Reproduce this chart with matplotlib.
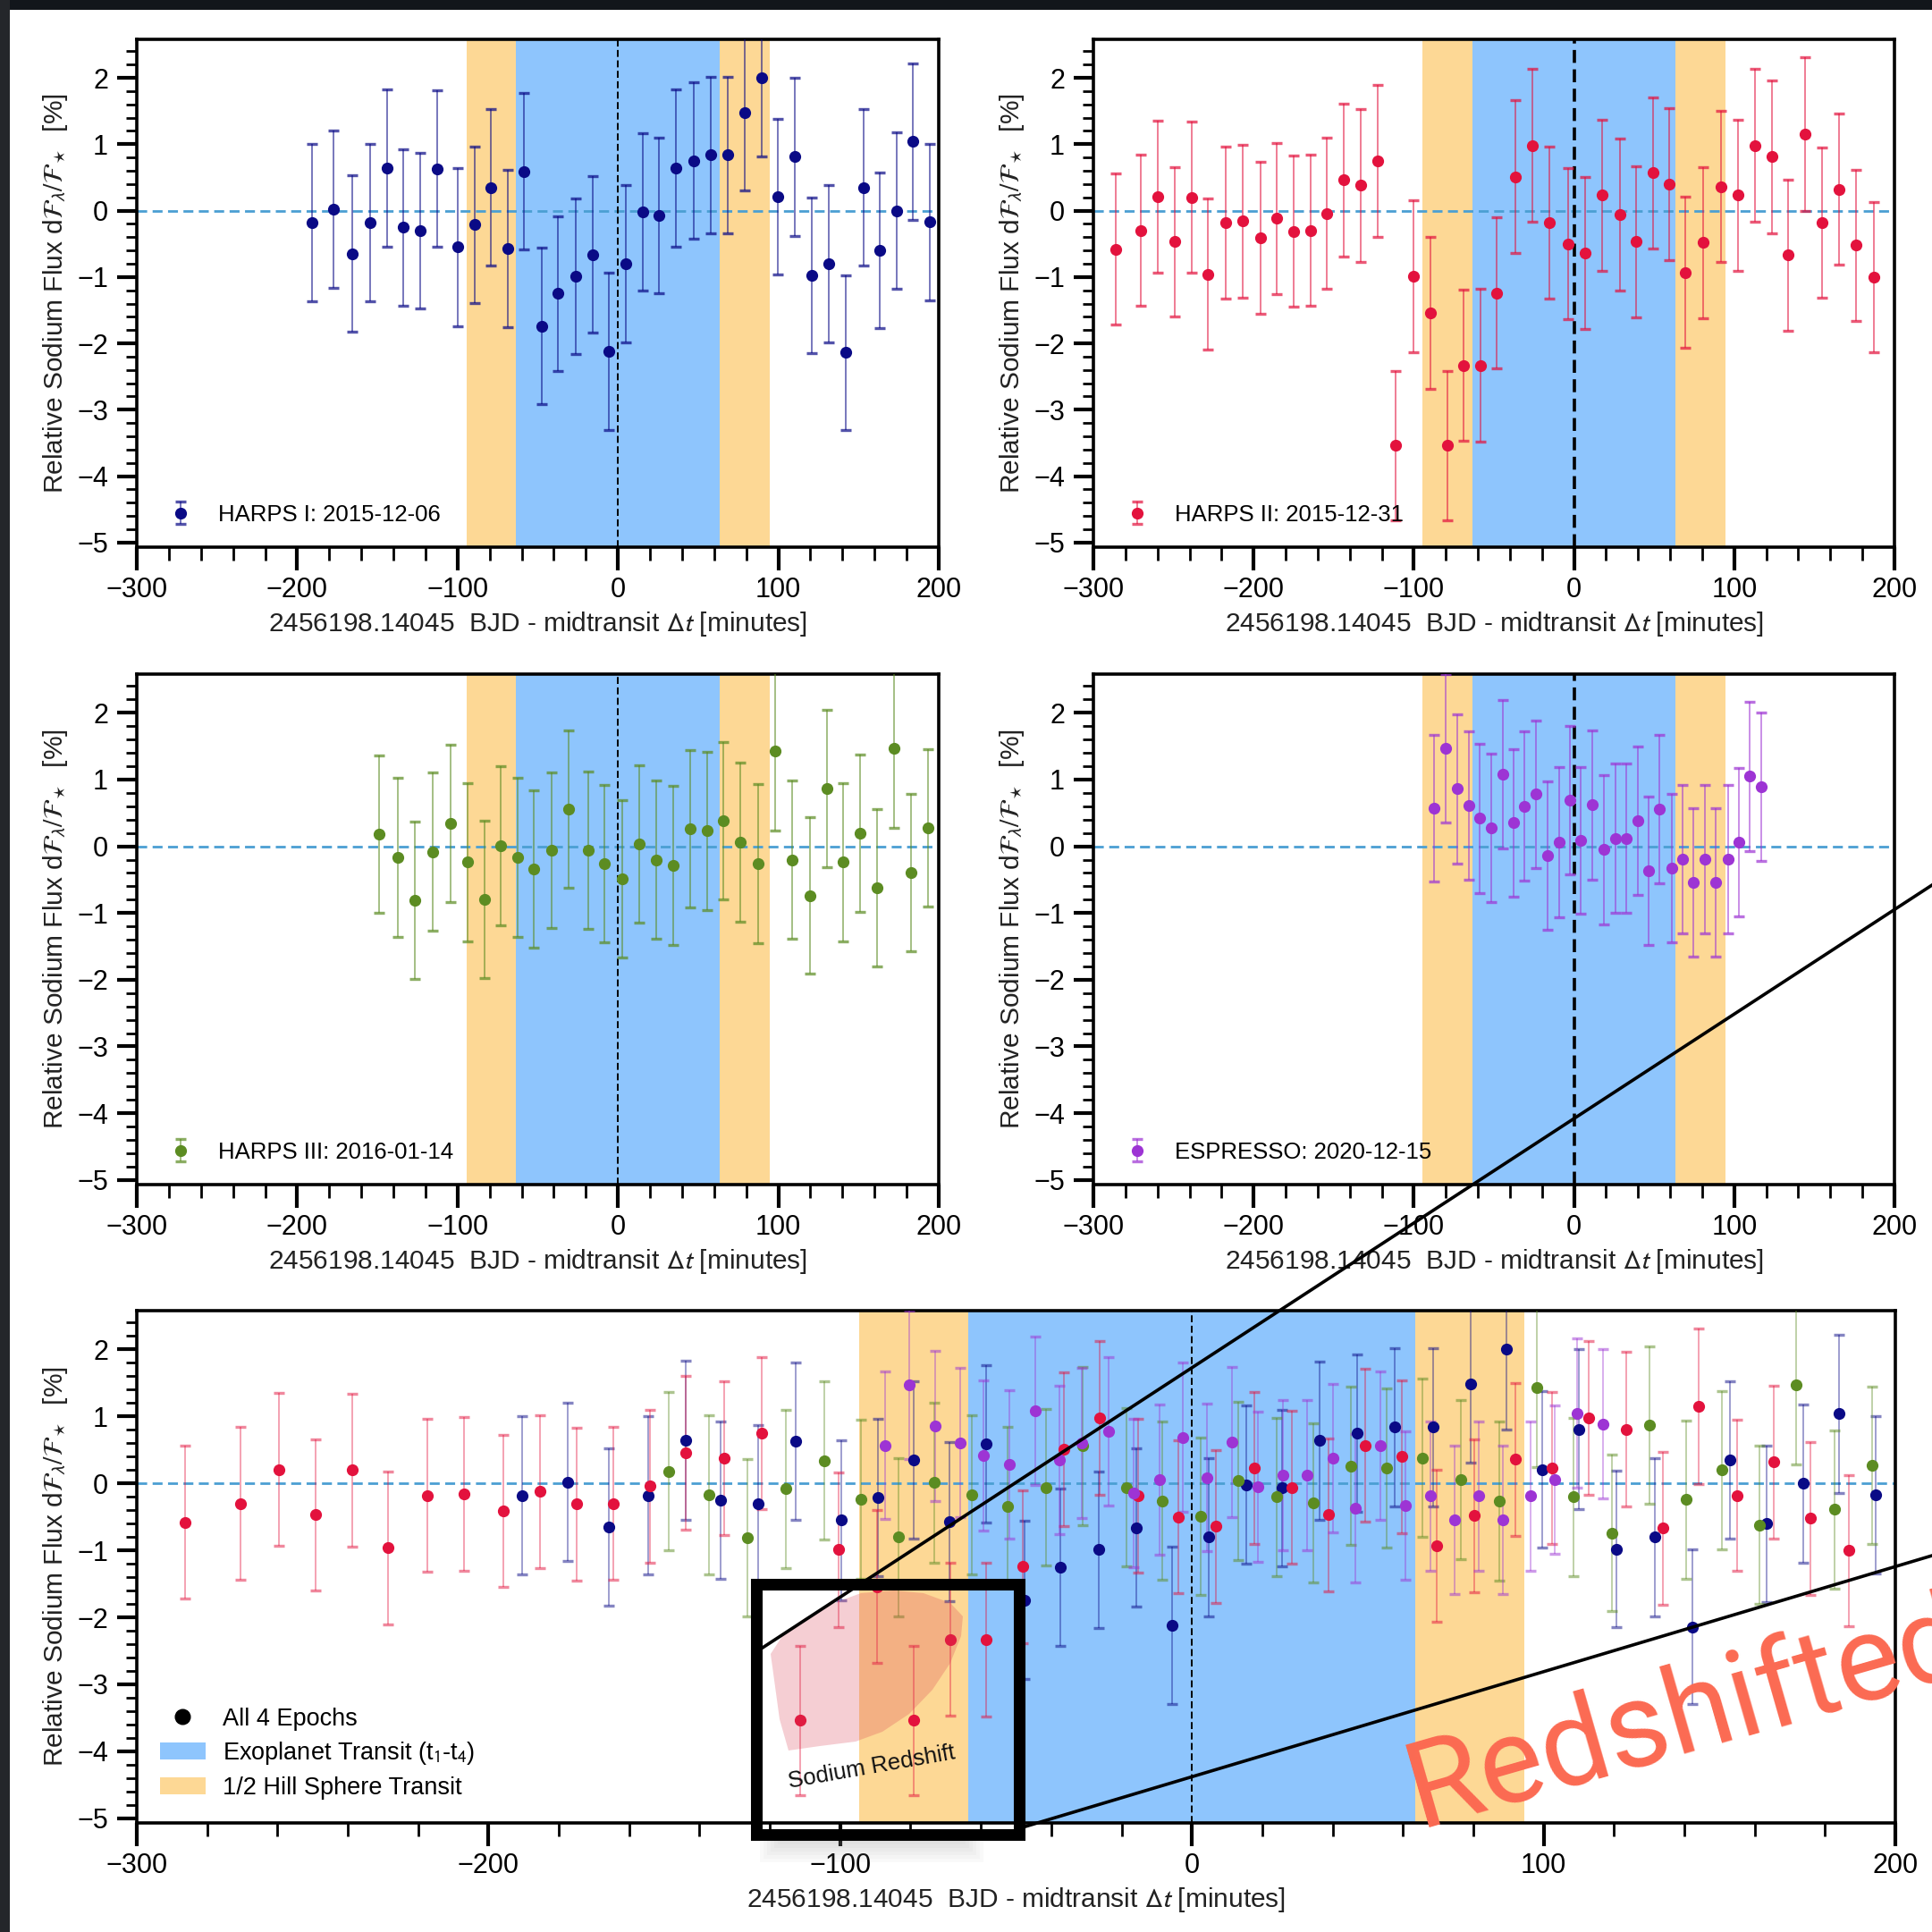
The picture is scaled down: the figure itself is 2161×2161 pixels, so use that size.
import numpy as np
import matplotlib
matplotlib.use("Agg")
import matplotlib.pyplot as plt
from matplotlib.patches import Patch, Rectangle, Polygon
from matplotlib.lines import Line2D
from matplotlib.ticker import MultipleLocator

plt.rcParams['font.family'] = ['Liberation Sans', 'DejaVu Sans']
plt.rcParams['mathtext.fontset'] = 'stixsans'

# --- sodium light curves, time from mid-transit [min], flux [%], 1-sigma error [%]
harps1_t = [-190.5, -177.6, -165.9, -154.6, -144.0, -133.9, -123.3, -112.7, -99.8, -89.3,
            -79.1, -68.9, -58.4, -47.5, -37.3, -26.4, -15.8, -5.6, 4.9, 15.5,
            25.6, 36.2, 47.1, 57.7, 68.6, 79.2, 89.4, 99.5, 110.1, 120.6,
            131.6, 142.2, 153.1, 163.3, 173.8, 184.0, 194.5]
harps1_f = [-0.18, 0.02, -0.65, -0.18, 0.64, -0.25, -0.30, 0.63, -0.55, -0.21,
            0.35, -0.57, 0.59, -1.74, -1.25, -0.99, -0.66, -2.12, -0.80, -0.02,
            -0.07, 0.64, 0.75, 0.84, 0.84, 1.48, 2.00, 0.21, 0.81, -0.98,
            -0.80, -2.14, 0.35, -0.60, 0.00, 1.04, -0.17]
harps1_e = [1.18, 1.18, 1.18, 1.18, 1.19, 1.18, 1.17, 1.18, 1.19, 1.18,
            1.18, 1.19, 1.18, 1.18, 1.17, 1.17, 1.18, 1.18, 1.18, 1.18,
            1.17, 1.18, 1.18, 1.18, 1.18, 1.17, 1.19, 1.17, 1.19, 1.17,
            1.18, 1.16, 1.18, 1.17, 1.18, 1.18, 1.18]

harps2_t = [-286.2, -270.4, -259.6, -249.2, -238.8, -228.5, -217.3, -206.9, -195.8, -185.4,
            -175.0, -164.6, -154.2, -143.8, -133.1, -122.3, -111.5, -100.4, -89.6, -79.2,
            -68.8, -58.5, -48.1, -36.5, -26.2, -15.4, -3.8, 6.9, 17.7, 28.5,
            38.8, 49.2, 59.6, 69.6, 80.4, 91.9, 102.3, 112.7, 123.5, 133.8,
            144.2, 155.0, 165.4, 175.8, 186.9]
harps2_f = [-0.58, -0.30, 0.21, -0.47, 0.20, -0.96, -0.18, -0.16, -0.41, -0.12,
            -0.31, -0.30, -0.04, 0.46, 0.38, 0.75, -3.54, -0.99, -1.54, -3.54,
            -2.33, -2.33, -1.24, 0.51, 0.98, -0.18, -0.50, -0.64, 0.23, -0.06,
            -0.47, 0.57, 0.40, -0.93, -0.48, 0.36, 0.23, 0.98, 0.81, -0.67,
            1.15, -0.18, 0.32, -0.52, -1.00]
harps2_e = [1.14, 1.14, 1.14, 1.13, 1.14, 1.14, 1.14, 1.15, 1.14, 1.14,
            1.14, 1.14, 1.14, 1.15, 1.15, 1.14, 1.12, 1.15, 1.14, 1.12,
            1.14, 1.15, 1.14, 1.15, 1.15, 1.15, 1.14, 1.14, 1.14, 1.14,
            1.14, 1.14, 1.14, 1.14, 1.14, 1.14, 1.14, 1.15, 1.15, 1.14,
            1.16, 1.13, 1.14, 1.14, 1.13]

harps3_t = [-148.7, -137.4, -126.4, -115.5, -104.5, -94.0, -83.4, -73.3, -62.7, -52.5,
            -41.6, -31.0, -18.5, -8.4, 2.6, 13.1, 24.1, 34.6, 45.2, 55.4,
            65.6, 76.5, 87.5, 98.0, 108.6, 119.5, 130.1, 140.6, 150.8, 161.4,
            171.9, 182.8, 193.4]
harps3_f = [0.18, -0.17, -0.81, -0.08, 0.34, -0.24, -0.80, 0.01, -0.17, -0.34,
            -0.06, 0.56, -0.06, -0.26, -0.49, 0.04, -0.20, -0.29, 0.26, 0.23,
            0.38, 0.06, -0.26, 1.43, -0.20, -0.74, 0.87, -0.24, 0.20, -0.62,
            1.47, -0.39, 0.27]
harps3_e = [1.18, 1.19, 1.18, 1.18, 1.18, 1.19, 1.18, 1.19, 1.19, 1.18,
            1.17, 1.18, 1.18, 1.18, 1.18, 1.18, 1.18, 1.19, 1.18, 1.19,
            1.18, 1.19, 1.19, 1.19, 1.18, 1.17, 1.18, 1.18, 1.18, 1.18,
            1.19, 1.18, 1.18]

espresso_t = [-87.3, -80.4, -73.1, -65.8, -59.2, -51.9, -44.6, -37.7, -31.2, -23.8,
              -16.5, -9.2, -2.7, 4.2, 11.5, 18.8, 25.8, 32.7, 40.0, 46.5,
              53.5, 60.8, 67.7, 74.6, 81.5, 88.5, 96.2, 103.1, 109.6, 116.9]
espresso_f = [0.57, 1.47, 0.86, 0.61, 0.42, 0.28, 1.08, 0.35, 0.60, 0.78,
              -0.14, 0.06, 0.69, 0.09, 0.62, -0.05, 0.12, 0.12, 0.38, -0.37,
              0.56, -0.33, -0.19, -0.54, -0.19, -0.54, -0.19, 0.06, 1.05, 0.89]
espresso_e = [1.10, 1.11, 1.12, 1.11, 1.12, 1.11, 1.11, 1.11, 1.12, 1.11,
              1.11, 1.12, 1.11, 1.10, 1.12, 1.12, 1.12, 1.12, 1.11, 1.11,
              1.11, 1.11, 1.11, 1.11, 1.11, 1.11, 1.11, 1.11, 1.12, 1.11]

epoch_labels = ['HARPS I: 2015-12-06', 'HARPS II: 2015-12-31',
                'HARPS III: 2016-01-14', 'ESPRESSO: 2020-12-15']
epoch_colors = ['#0a0a86', '#e3123d', '#5c8c22', '#9d34d4']

transit_half = 63.5     # t1-t4 half width [min]
hill_half = 94.5        # half Hill sphere crossing [min]

BLUE = '#8ec5fd'
ORANGE = '#fdd895'

epochs = [(harps1_t, harps1_f, harps1_e),
          (harps2_t, harps2_f, harps2_e),
          (harps3_t, harps3_f, harps3_e),
          (espresso_t, espresso_f, espresso_e)]

W = H = 2161
fig = plt.figure(figsize=(W / 100, H / 100), dpi=100)
fig.patch.set_facecolor('white')


def frac(x, y):
    return x / W, 1 - y / H


def box(x0, y0, x1, y1):
    return [x0 / W, 1 - y1 / H, (x1 - x0) / W, (y1 - y0) / H]


def style_axes(ax, bold_zero=False):
    ax.axvspan(-hill_half, -transit_half, color=ORANGE, lw=0, zorder=0)
    ax.axvspan(-transit_half, transit_half, color=BLUE, lw=0, zorder=0)
    ax.axvspan(transit_half, hill_half, color=ORANGE, lw=0, zorder=0)
    ax.axhline(0, color='#4b9fd3', ls=(0, (4, 2.2)), lw=2.0, zorder=1)
    ax.axvline(0, color='black', ls=(0, (4, 2)), lw=2.6 if bold_zero else 1.4, zorder=1)
    ax.set_xlim(-300, 200)
    ax.set_ylim(-5.07, 2.58)
    ax.xaxis.set_major_locator(MultipleLocator(100))
    ax.xaxis.set_minor_locator(MultipleLocator(20))
    ax.yaxis.set_major_locator(MultipleLocator(1))
    ax.yaxis.set_minor_locator(MultipleLocator(0.2))
    ax.tick_params(axis='x', which='major', direction='out', length=19, width=3,
                   labelsize=22, pad=5)
    ax.tick_params(axis='x', which='minor', direction='out', length=11, width=2)
    ax.tick_params(axis='y', which='major', direction='out', length=16, width=3,
                   labelsize=22, pad=7)
    ax.tick_params(axis='y', which='minor', direction='out', length=9, width=2)
    for s in ax.spines.values():
        s.set_linewidth(2.6)
    ax.set_xlabel(r'2456198.14045  BJD - midtransit $\mathit{\Delta t}$ [minutes]',
                  fontsize=21.5, labelpad=5, color='#222222')
    ax.set_ylabel(r'Relative Sodium Flux d$\mathcal{F}_\lambda/\mathcal{F}_\star$  [%]',
                  fontsize=21.5, labelpad=6, color='#222222')


def draw_epoch(ax, t, f, e, color, label=None, err_alpha=0.7):
    ax.errorbar(t, f, yerr=e, fmt='o', ms=8.5, color=color, mec=color,
                ecolor=matplotlib.colors.to_rgba(color, err_alpha),
                elinewidth=1.1, capsize=4.5, capthick=2.4, label=label, zorder=3)


# four single-epoch panels
panel_boxes = [box(153, 44, 1050, 612), box(1223, 44, 2119, 612),
               box(153, 754, 1050, 1325), box(1223, 754, 2119, 1325)]
for i, (pb, (t, f, e)) in enumerate(zip(panel_boxes, epochs)):
    ax = fig.add_axes(pb)
    style_axes(ax, bold_zero=(i % 2 == 1))
    draw_epoch(ax, t, f, e, epoch_colors[i], label=epoch_labels[i])
    ax.legend(loc='lower left', frameon=False, fontsize=18.5, handlelength=1.9,
              handletextpad=0.7, borderaxespad=0.55)

# combined panel
axb = fig.add_axes(box(153, 1466, 2120, 2039))
style_axes(axb)
for (t, f, e), c in zip(epochs, epoch_colors):
    draw_epoch(axb, t, f, e, c, err_alpha=0.5)
handles = [Line2D([], [], ls='none', marker='o', ms=12, color='black'),
           Patch(facecolor=BLUE, edgecolor='none'),
           Patch(facecolor=ORANGE, edgecolor='none')]
axb.legend(handles, ['All 4 Epochs', r'Exoplanet Transit (t$_1$-t$_4$)',
                     '1/2 Hill Sphere Transit'],
           loc='lower left', frameon=False, fontsize=19.5, handlelength=1.9,
           handletextpad=0.7, labelspacing=0.4, borderaxespad=0.55)

# dark screen edges
fig.add_artist(Rectangle((0, 1 - 11 / H), 1, 11 / H, transform=fig.transFigure,
                         color='#12161b', lw=0, zorder=5))
fig.add_artist(Rectangle((0, 0), 11 / W, 1, transform=fig.transFigure,
                         color='#24262a', lw=0, zorder=5))

# highlighted redshift region
blob = [(862, 1850), (877, 1827), (900, 1810), (933, 1793), (963, 1782), (1000, 1779),
        (1033, 1782), (1063, 1793), (1077, 1808), (1075, 1830), (1063, 1860),
        (1043, 1890), (1017, 1917), (987, 1937), (957, 1948), (917, 1953),
        (882, 1958), (872, 1923)]
fig.add_artist(Polygon([frac(*p) for p in blob], closed=True, transform=fig.transFigure,
                       facecolor='#d83c50', alpha=0.25, lw=0, zorder=6))
x0, y0 = frac(883, 2000)
fig.text(x0, y0, 'Sodium Redshift', rotation=10, rotation_mode='anchor',
         ha='left', va='baseline', fontsize=18.5, color='#111111', zorder=7)

# soft shadow under the zoom box
for k in range(6):
    sx, sy = frac(850 + 4 * k, 2058 + 25 - 4 * k)
    fig.add_artist(Rectangle((sx, sy), (250 - 8 * k) / W, (25 - 4 * k) / H,
                             transform=fig.transFigure, color='#9a9a9a',
                             alpha=0.05, lw=0, zorder=7))

# zoom box and guide lines
rx, ry = frac(846.5, 2051.5)
fig.add_artist(Rectangle((rx, ry), 294 / W, 280 / H, transform=fig.transFigure,
                         fill=False, ec='black', lw=9.4, joinstyle='miter', zorder=8))
for (xa, ya), (xb, yb) in [((853, 1843), (2161, 990)), ((1147, 2043), (2161, 1740))]:
    p, q = frac(xa, ya), frac(xb, yb)
    fig.add_artist(Line2D([p[0], q[0]], [p[1], q[1]], transform=fig.transFigure,
                          color='black', lw=2.6, zorder=8))

# large label running off the right edge
x0, y0 = frac(1588, 2044)
fig.text(x0, y0, 'Redshifted', rotation=16, rotation_mode='anchor',
         ha='left', va='baseline', fontsize=97, color='#fb6a52',
         family=['Roboto', 'DejaVu Sans'], zorder=9)

fig.savefig('out.png', dpi=100)
